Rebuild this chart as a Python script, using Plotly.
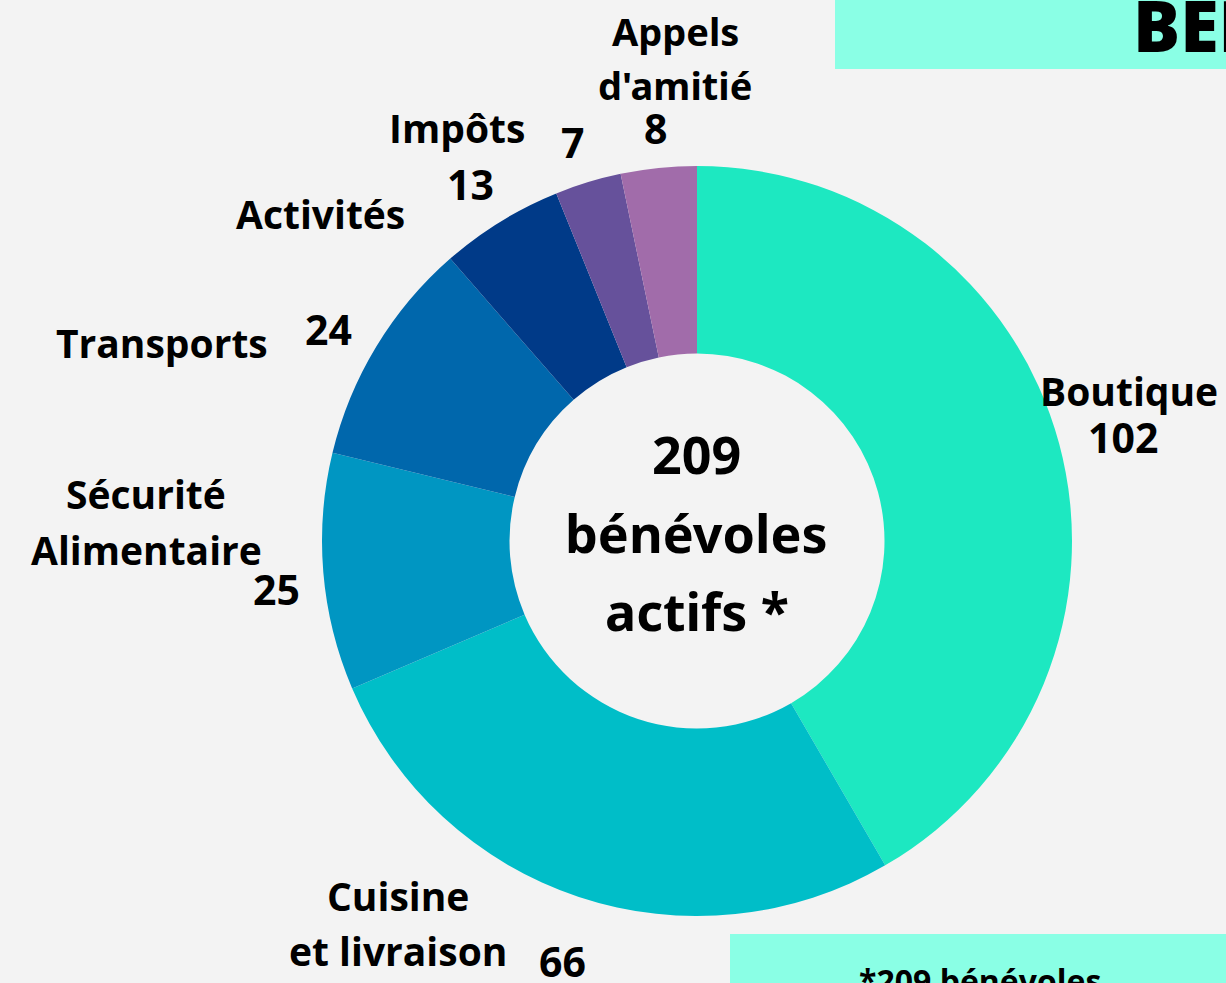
import plotly.graph_objects as go

W, H = 1226, 983

categories = ["Boutique", "Cuisine et livraison", "Sécurité Alimentaire", "Transports",
              "Activités", "Impôts", "Appels d'amitié"]
values = [102, 66, 25, 24, 13, 7, 8]
colors = ["#1de8c1", "#00bec8", "#0096c2", "#0067ac", "#003a88", "#66519b", "#a16caa"]
center_lines = ["209", "bénévoles", "actifs *"]

fig = go.Figure(go.Pie(
    labels=categories,
    values=values,
    marker=dict(colors=colors, line=dict(width=0)),
    hole=0.5,
    sort=False,
    direction="clockwise",
    rotation=0,
    textinfo="none",
    showlegend=False,
    domain=dict(x=[322 / W, 1072 / W], y=[1 - 916 / H, 1 - 166 / H]),
))

LBL = dict(family="Open Sans", size=39, color="black", weight=700)
WRD = dict(family="Noto Sans", size=38, color="black", weight=700)
NUM = dict(family="Noto Sans", size=41, color="black", weight=700)
CEN = dict(family="Noto Sans", size=52, color="black", weight=700)


def ann(text, x, y, font, xanchor="center"):
    fig.add_annotation(text=text, x=x / W, y=1 - y / H, xref="paper", yref="paper",
                       xanchor=xanchor, yanchor="middle", showarrow=False, font=font)


# category labels and values
ann("Appels", 675, 31, WRD)
ann("d'amitié", 675, 85, WRD)
ann(str(values[6]), 655, 128, NUM)
ann(str(values[5]), 572, 142, NUM)
ann("Impôts", 457, 127, LBL)
ann(str(values[4]), 470, 184, NUM)
ann("Activités", 320, 213, LBL)
ann("Transports", 162, 343, LBL)
ann(str(values[3]), 328, 329, NUM)
ann("Sécurité", 146, 494, LBL)
ann("Alimentaire", 146, 549, LBL)
ann(str(values[2]), 276, 589, NUM)
ann("Boutique", 1129, 390, LBL)
ann(str(values[0]), 1123, 437, NUM)
ann("Cuisine", 398, 895, LBL)
ann("et livraison", 398, 950, LBL)
ann(str(values[1]), 562, 961, NUM)

# centre text
for line, yy in zip(center_lines, [454, 532, 610]):
    ann(line, 697, yy, CEN)

# header / footer boxes (cut off by the canvas)
fig.add_shape(type="rect", xref="paper", yref="paper", x0=835 / W, x1=1.02,
              y0=1 - 69 / H, y1=1.02, fillcolor="#8affe5", line=dict(width=0), layer="below")
fig.add_shape(type="rect", xref="paper", yref="paper", x0=730 / W, x1=1.02,
              y0=-0.02, y1=1 - 934 / H, fillcolor="#8affe5", line=dict(width=0), layer="below")
ann("BÉNÉVOLES", 1131, 25, dict(family="Open Sans", size=70, color="black", weight=800),
    xanchor="left")
ann("*209 bénévoles", 857, 980, dict(family="Open Sans", size=32, color="black", weight=700),
    xanchor="left")

fig.update_layout(
    width=W, height=H,
    margin=dict(l=0, r=0, t=0, b=0),
    paper_bgcolor="#f3f3f3",
    plot_bgcolor="#f3f3f3",
)

fig.write_html("out.html", config={"displayModeBar": False},
               post_script="document.body.style.margin='0';document.body.style.overflow='hidden';")
